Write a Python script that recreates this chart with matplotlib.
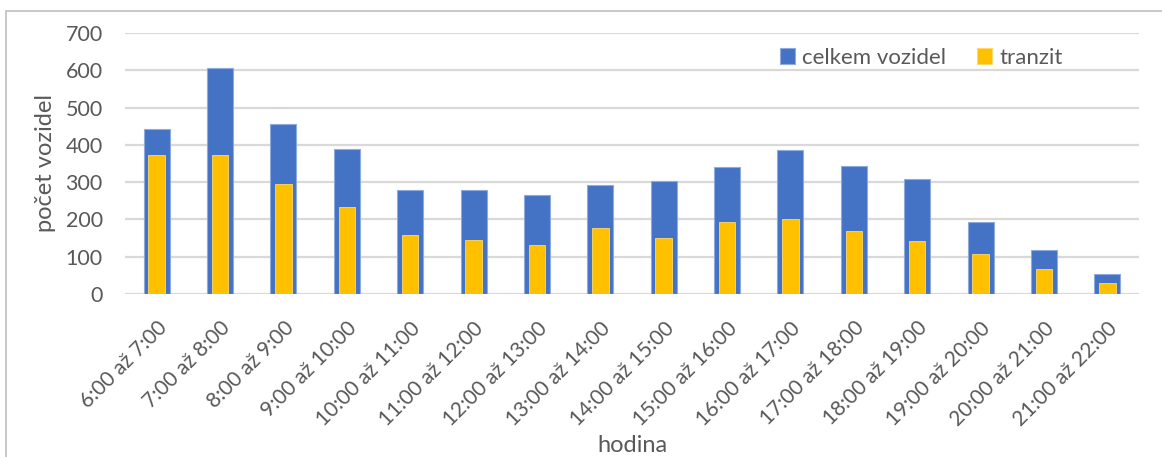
import matplotlib
matplotlib.use("Agg")
import matplotlib.pyplot as plt
from matplotlib.patches import Rectangle
from matplotlib.transforms import ScaledTranslation
import numpy as np

plt.rcParams['font.family'] = ['Lato', 'DejaVu Sans']

hours = ["6:00 až 7:00", "7:00 až 8:00", "8:00 až 9:00", "9:00 až 10:00",
         "10:00 až 11:00", "11:00 až 12:00", "12:00 až 13:00", "13:00 až 14:00",
         "14:00 až 15:00", "15:00 až 16:00", "16:00 až 17:00", "17:00 až 18:00",
         "18:00 až 19:00", "19:00 až 20:00", "20:00 až 21:00", "21:00 až 22:00"]
total = [443, 607, 456, 390, 279, 279, 265, 292, 303, 340, 385, 344, 309, 193, 118, 53]
transit = [374, 374, 296, 233, 159, 146, 131, 176, 149, 193, 200, 169, 142, 108, 66, 29]
yticks = [0, 100, 200, 300, 400, 500, 600, 700]

BLUE = "#4472C4"
GOLD = "#FFC000"
TEXT = "#595959"
GRID = "#D9D9D9"

W, H = 1162, 457
fig = plt.figure(figsize=(W / 100, H / 100), dpi=100)

# chart frame
fig.patches.append(Rectangle((6 / W, -0.1), 1.2, 1 - 11 / H + 0.1,
                             transform=fig.transFigure, fill=False,
                             edgecolor="#BFBFBF", linewidth=1.2))

AX_L, AX_R, AX_T, AX_B = 125, 1139, 33, 294
ax = fig.add_axes([AX_L / W, 1 - AX_B / H, (AX_R - AX_L) / W, (AX_B - AX_T) / H])
x = np.arange(len(hours))
ax.bar(x, total, width=0.41, color=BLUE, edgecolor="#8FAADC", linewidth=0.8,
       label="celkem vozidel", zorder=2)
ax.bar(x, transit, width=0.26, color=GOLD, edgecolor="#FFD966", linewidth=0.6,
       label="tranzit", zorder=3)

ax.set_xlim(-0.5, len(hours) - 0.5)
ax.set_ylim(0, 700)
ax.set_yticks(yticks)
ax.yaxis.grid(True, color=GRID, linewidth=1.6, zorder=0)
ax.set_axisbelow(True)
for s in ax.spines.values():
    s.set_visible(False)
ax.tick_params(axis='both', length=0, colors=TEXT, labelsize=15.5)
ax.tick_params(axis='y', pad=16)

ax.set_xticks(x)
ax.set_xticklabels(hours, rotation=45, ha='right', va='center',
                   rotation_mode='anchor', fontsize=15)
for lbl in ax.get_xticklabels():
    lbl.set_transform(lbl.get_transform() +
                      ScaledTranslation(7 / 100, -26 / 100, fig.dpi_scale_trans))

ax.set_ylabel("počet vozidel", color=TEXT, fontsize=17)
ax.yaxis.set_label_coords((56 - AX_L) / (AX_R - AX_L), 0.5)
ax.set_xlabel("hodina", color=TEXT, fontsize=17)
ax.xaxis.set_label_coords(0.5, -(445 - AX_B) / (AX_B - AX_T))
ax.xaxis.label.set_va('center')

leg = ax.legend(loc='center', bbox_to_anchor=(921 / W, 1 - 58 / H),
                bbox_transform=fig.transFigure, ncol=2, frameon=False,
                fontsize=16, handlelength=0.7, handleheight=0.7,
                handletextpad=0.3, columnspacing=1.4)
for t in leg.get_texts():
    t.set_color(TEXT)

fig.savefig("out.png", dpi=100)
